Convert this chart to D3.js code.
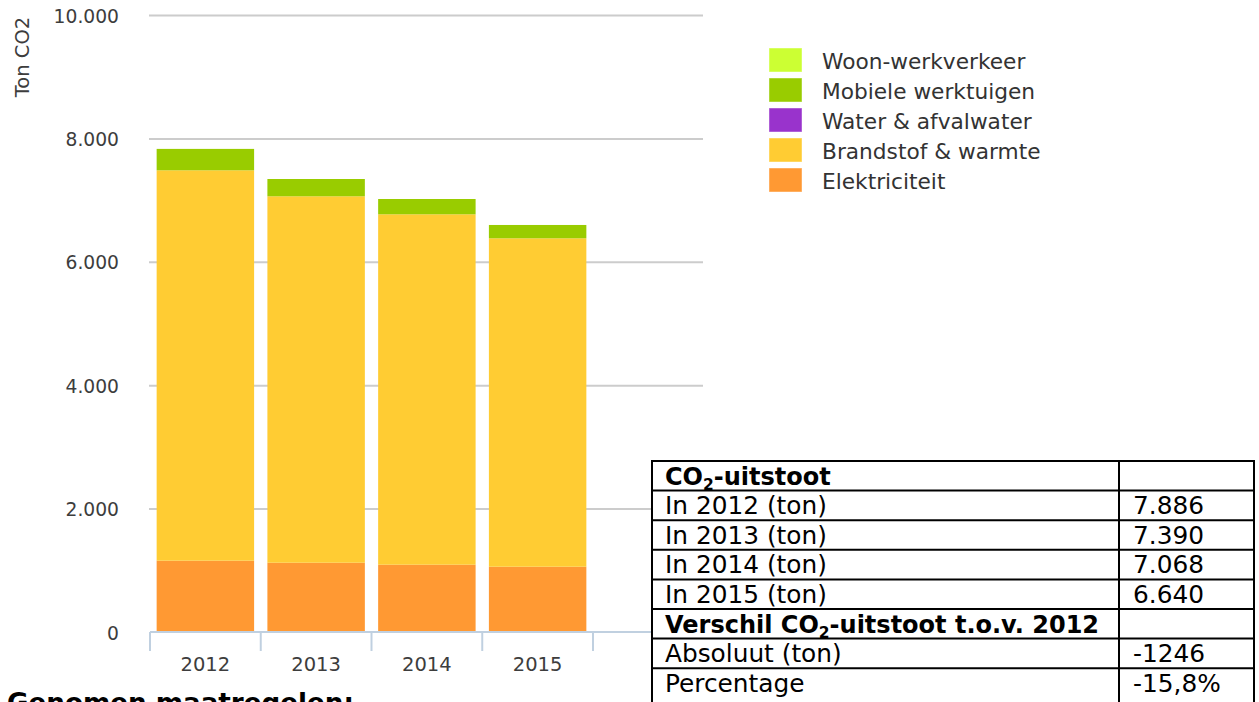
<!DOCTYPE html>
<html>
<head>
<meta charset="utf-8">
<script src="https://cdn.jsdelivr.net/npm/d3@7"></script>
<style>
  body { margin: 0; background: #fff; }
  svg { display: block; }
</style>
</head>
<body>
<div id="chart"></div>
<script>
// chart data
var years = ["2012", "2013", "2014", "2015"];
var seriesNames = ["Elektriciteit", "Brandstof & warmte", "Water & afvalwater", "Mobiele werktuigen", "Woon-werkverkeer"];
var seriesColors = ["#ff9933", "#ffcc33", "#9933cc", "#99cc00", "#ccff33"];
var elektriciteit = [1164, 1131, 1099, 1066];
var brandstof = [6327, 5939, 5679, 5323];
var water = [0, 0, 0, 0];
var mobiel = [347, 280, 248, 216];
var woonwerk = [0, 0, 0, 0];
var yTicks = [0, 2000, 4000, 6000, 8000, 10000];

// table contents
var tableRows = [
    { label: "CO|2|-uitstoot", value: "", bold: true },
    { label: "In 2012 (ton)", value: "7.886" },
    { label: "In 2013 (ton)", value: "7.390" },
    { label: "In 2014 (ton)", value: "7.068" },
    { label: "In 2015 (ton)", value: "6.640" },
    { label: "Verschil CO|2|-uitstoot t.o.v. 2012", value: "", bold: true },
    { label: "Absoluut (ton)", value: "-1246" },
    { label: "Percentage", value: "-15,8%" }
];

var W = 1259, H = 702;
var font = "'DejaVu Sans', Verdana, sans-serif";
var labelColor = "#3d3d3d";

var svg = d3.select("#chart").append("svg")
    .attr("width", W)
    .attr("height", H);

var x = d3.scaleBand().domain(years).range([150, 593]).paddingInner(0.12).paddingOuter(0.06);
var y = d3.scaleLinear().domain([0, 10000]).range([632.5, 15.5]);

// grid lines
svg.append("g").selectAll("line")
    .data(yTicks.filter(function (d) { return d > 0; }))
    .enter().append("line")
    .attr("x1", 149).attr("x2", 703)
    .attr("y1", function (d) { return y(d); })
    .attr("y2", function (d) { return y(d); })
    .attr("stroke", "#cccccc")
    .attr("stroke-width", 2);

// y labels
svg.append("g").selectAll("text")
    .data(yTicks)
    .enter().append("text")
    .attr("x", 119)
    .attr("y", function (d) { return y(d) + 7; })
    .attr("text-anchor", "end")
    .attr("font-family", font)
    .attr("font-size", 18.7)
    .attr("fill", labelColor)
    .text(function (d) { return d3.format(",")(d).replace(/,/g, "."); });

svg.append("text")
    .attr("transform", "translate(29,57) rotate(-90)")
    .attr("text-anchor", "middle")
    .attr("font-family", font)
    .attr("font-size", 19.5)
    .attr("fill", labelColor)
    .text("Ton CO2");

// stacked bars
var table = years.map(function (yr, i) {
    return { year: yr, e: elektriciteit[i], b: brandstof[i], w: water[i], m: mobiel[i], ww: woonwerk[i] };
});
var stack = d3.stack().keys(["e", "b", "w", "m", "ww"]);
var layers = stack(table);

svg.append("g").selectAll("g")
    .data(layers)
    .enter().append("g")
    .attr("fill", function (d, i) { return seriesColors[i]; })
    .selectAll("rect")
    .data(function (d) { return d; })
    .enter().append("rect")
    .attr("x", function (d) { return x(d.data.year); })
    .attr("width", x.bandwidth())
    .attr("y", function (d) { return y(d[1]); })
    .attr("height", function (d) { return y(d[0]) - y(d[1]); });

// x axis
var xAxis = svg.append("g");
xAxis.append("line")
    .attr("x1", 150).attr("x2", 703)
    .attr("y1", 632).attr("y2", 632)
    .attr("stroke", "#c0d0e0").attr("stroke-width", 2);
var edges = years.map(function (d) { return x(d) - x.step() * x.paddingInner() / 2; });
edges.push(x(years[years.length - 1]) + x.bandwidth() + x.step() * x.paddingInner() / 2);
edges.push(edges[edges.length - 1] + x.step());
xAxis.selectAll(".tick")
    .data(edges)
    .enter().append("line")
    .attr("x1", function (d) { return d; })
    .attr("x2", function (d) { return d; })
    .attr("y1", 632).attr("y2", 651)
    .attr("stroke", "#c0d0e0").attr("stroke-width", 2);
xAxis.selectAll("text")
    .data(years)
    .enter().append("text")
    .attr("x", function (d) { return x(d) + x.bandwidth() / 2; })
    .attr("y", 671)
    .attr("text-anchor", "middle")
    .attr("font-family", font)
    .attr("font-size", 19.5)
    .attr("fill", labelColor)
    .text(function (d) { return d; });

// legend (top item is the last series)
var legendItems = seriesNames.map(function (n, i) { return { name: n, color: seriesColors[i] }; }).reverse();
var legend = svg.append("g").selectAll("g")
    .data(legendItems)
    .enter().append("g")
    .attr("transform", function (d, i) { return "translate(769," + (48 + i * 30) + ")"; });
legend.append("rect")
    .attr("width", 33).attr("height", 24)
    .attr("fill", function (d) { return d.color; })
    .attr("stroke", "#ffffff").attr("stroke-opacity", 0.45);
legend.append("text")
    .attr("x", 53).attr("y", 21)
    .attr("font-family", font)
    .attr("font-size", 21.7)
    .attr("fill", "#333")
    .text(function (d) { return d.name; });

// table
var tX0 = 652, tX1 = 1119, tX2 = 1254, tY0 = 461, rowH = 29.6;
var tg = svg.append("g");
tg.append("rect")
    .attr("x", tX0).attr("y", tY0)
    .attr("width", tX2 - tX0).attr("height", H - tY0 + 20)
    .attr("fill", "#fff").attr("stroke", "#000").attr("stroke-width", 2);
tg.append("line")
    .attr("x1", tX1).attr("x2", tX1)
    .attr("y1", tY0).attr("y2", H + 5)
    .attr("stroke", "#000").attr("stroke-width", 2);
tg.selectAll(".rowline")
    .data(d3.range(1, tableRows.length))
    .enter().append("line")
    .attr("x1", tX0).attr("x2", tX2)
    .attr("y1", function (d) { return tY0 + d * rowH; })
    .attr("y2", function (d) { return tY0 + d * rowH; })
    .attr("stroke", "#000").attr("stroke-width", 2);

var rowText = tg.selectAll(".row")
    .data(tableRows)
    .enter().append("g")
    .attr("transform", function (d, i) { return "translate(0," + (tY0 + i * rowH + 23.5) + ")"; });

rowText.append("text")
    .attr("x", tX0 + 13)
    .attr("font-family", font)
    .attr("font-size", function (d) { return d.bold ? 24 : 24.8; })
    .attr("font-weight", function (d) { return d.bold ? "bold" : "normal"; })
    .attr("fill", "#000")
    .each(function (d) {
        var parts = d.label.split("|");
        var t = d3.select(this);
        parts.forEach(function (p, j) {
            if (j === 1) {
                t.append("tspan").attr("font-size", 15.5).attr("dy", 5).text(p);
            } else if (j === 2) {
                t.append("tspan").attr("dy", -5).text(p);
            } else {
                t.append("tspan").text(p);
            }
        });
    });

rowText.append("text")
    .attr("x", tX1 + 14)
    .attr("font-family", font)
    .attr("font-size", 24.8)
    .attr("fill", "#000")
    .text(function (d) { return d.value; });

// heading below chart, cut off by the picture edge
svg.append("text")
    .attr("x", 7).attr("y", 712)
    .attr("font-family", font)
    .attr("font-size", 26.2)
    .attr("font-weight", "bold")
    .attr("fill", "#000")
    .text("Genomen maatregelen:");
</script>
</body>
</html>
